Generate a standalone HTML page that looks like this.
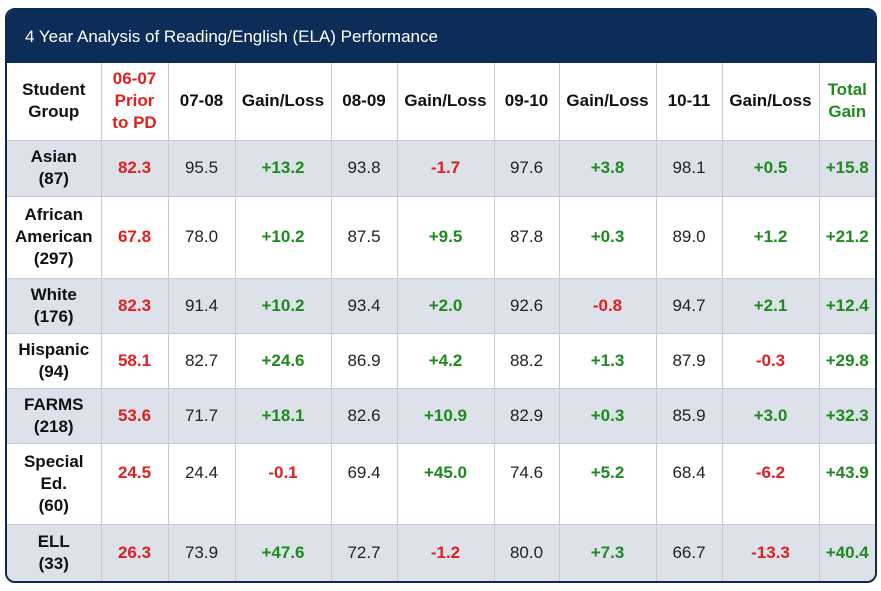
<!DOCTYPE html>
<html><head><meta charset="utf-8"><style>
body{margin:0;width:881px;height:591px;background:#fff;position:relative;overflow:hidden;font-family:"Liberation Sans",Arial,sans-serif;}
#box{position:absolute;left:5px;top:8px;width:868px;height:571px;border:2px solid #0c2a4e;border-radius:10px;overflow:hidden;background:#fff}
#title{height:53px;background:#0c2d57;color:#fff;font-size:17px;line-height:53px;padding-left:18px}
table{border-collapse:collapse;table-layout:fixed;width:868px}
td{border:1px solid #c9cbd0;text-align:center;font-size:17px;color:#222;padding:0;line-height:22px}
tr:first-child td{border-top:none}
td:first-child{border-left:none}td:last-child{border-right:none}
tr.g td{background:#dde1e9}
.h{font-weight:bold;color:#111}
.r{color:#e02020;font-weight:bold}
.gr{color:#1e8a1e;font-weight:bold}
</style></head><body>
<div id="box">
<div id="title">4 Year Analysis of Reading/English (ELA) Performance</div>
<table>
<colgroup><col style="width:94px"><col style="width:67px"><col style="width:67px"><col style="width:96px"><col style="width:66px"><col style="width:97px"><col style="width:65px"><col style="width:97px"><col style="width:66px"><col style="width:97px"><col style="width:56px"></colgroup>
<tr style="height:77px"><td class="h">Student<br>Group</td><td class="r">06-07<br>Prior<br>to PD</td><td class="h">07-08</td><td class="h">Gain/Loss</td><td class="h">08-09</td><td class="h">Gain/Loss</td><td class="h">09-10</td><td class="h">Gain/Loss</td><td class="h">10-11</td><td class="h">Gain/Loss</td><td class="gr">Total<br>Gain</td></tr>
<tr class="g" style="height:56px"><td class="h">Asian<br>(87)</td><td class="r">82.3</td><td>95.5</td><td class="gr">+13.2</td><td>93.8</td><td class="r">-1.7</td><td>97.6</td><td class="gr">+3.8</td><td>98.1</td><td class="gr">+0.5</td><td class="gr">+15.8</td></tr>
<tr style="height:82px"><td class="h">African<br>American<br>(297)</td><td class="r">67.8</td><td>78.0</td><td class="gr">+10.2</td><td>87.5</td><td class="gr">+9.5</td><td>87.8</td><td class="gr">+0.3</td><td>89.0</td><td class="gr">+1.2</td><td class="gr">+21.2</td></tr>
<tr class="g" style="height:55px"><td class="h">White<br>(176)</td><td class="r">82.3</td><td>91.4</td><td class="gr">+10.2</td><td>93.4</td><td class="gr">+2.0</td><td>92.6</td><td class="r">-0.8</td><td>94.7</td><td class="gr">+2.1</td><td class="gr">+12.4</td></tr>
<tr style="height:55px"><td class="h">Hispanic<br>(94)</td><td class="r">58.1</td><td>82.7</td><td class="gr">+24.6</td><td>86.9</td><td class="gr">+4.2</td><td>88.2</td><td class="gr">+1.3</td><td>87.9</td><td class="r">-0.3</td><td class="gr">+29.8</td></tr>
<tr class="g" style="height:55px"><td class="h">FARMS<br>(218)</td><td class="r">53.6</td><td>71.7</td><td class="gr">+18.1</td><td>82.6</td><td class="gr">+10.9</td><td>82.9</td><td class="gr">+0.3</td><td>85.9</td><td class="gr">+3.0</td><td class="gr">+32.3</td></tr>
<tr style="height:81px"><td class="h">Special<br>Ed.<br>(60)</td><td class="r" style="vertical-align:top;padding-top:18px">24.5</td><td style="vertical-align:top;padding-top:18px">24.4</td><td class="r" style="vertical-align:top;padding-top:18px">-0.1</td><td style="vertical-align:top;padding-top:18px">69.4</td><td class="gr" style="vertical-align:top;padding-top:18px">+45.0</td><td style="vertical-align:top;padding-top:18px">74.6</td><td class="gr" style="vertical-align:top;padding-top:18px">+5.2</td><td style="vertical-align:top;padding-top:18px">68.4</td><td class="r" style="vertical-align:top;padding-top:18px">-6.2</td><td class="gr" style="vertical-align:top;padding-top:18px">+43.9</td></tr>
<tr class="g" style="height:57px"><td class="h">ELL<br>(33)</td><td class="r">26.3</td><td>73.9</td><td class="gr">+47.6</td><td>72.7</td><td class="r">-1.2</td><td>80.0</td><td class="gr">+7.3</td><td>66.7</td><td class="r">-13.3</td><td class="gr">+40.4</td></tr>
</table>
</div>
</body></html>
